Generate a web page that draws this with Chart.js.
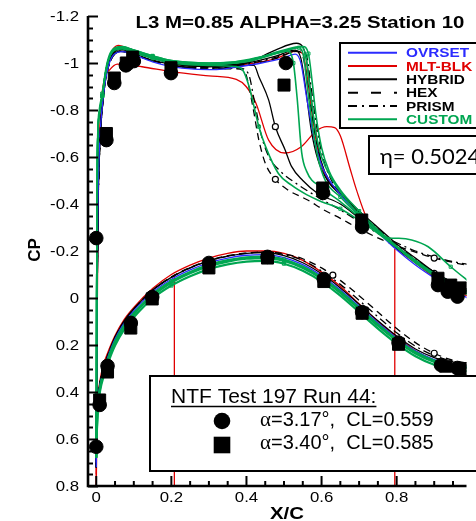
<!DOCTYPE html>
<html lang="fr">
<head>
<meta charset="utf-8">
<title>CP - Station 10</title>
<script src="https://cdn.jsdelivr.net/npm/chart.js@4.4.1/dist/chart.umd.min.js"></script>
<style>
	html, body { margin: 0; padding: 0; background: #ffffff; overflow: hidden; }
	#myChart { display: block; }
</style>
</head>
<body>
<canvas id="myChart" width="476" height="521"></canvas>
<script>
/* ====================================================================
 *
 * cp.js - distribution de CP, station 10
 *
 * ==================================================================== */

const titre = 'L3 M=0.85 ALPHA=3.25 Station 10';

const xTicks = [0, 0.2, 0.4, 0.6, 0.8];
const yTicks = [-1.2, -1, -0.8, -0.6, -0.4, -0.2, 0, 0.2, 0.4, 0.6, 0.8];

const legendeNoms = ['OVRSET', 'MLT-BLK', 'HYBRID', 'HEX', 'PRISM', 'CUSTOM'];

// Essai NTF 197 run 44 (extrados puis intrados)
const ntfAlpha317 = [
	[0, -0.255], [0.027, -0.672], [0.048, -0.915], [0.079, -0.99], [0.1, -1.008], [0.199, -0.957],
	[0.505, -1.0], [0.604, -0.447], [0.708, -0.302], [0.91, -0.055], [0.936, -0.027], [0.962, -0.006],
	[0, 0.633], [0.009, 0.455], [0.03, 0.289], [0.092, 0.106], [0.149, -0.004], [0.3, -0.149],
	[0.456, -0.175], [0.606, -0.081], [0.708, 0.06], [0.805, 0.19], [0.918, 0.285], [0.961, 0.298]
];
const ntfAlpha340 = [
	[0.027, -0.70], [0.048, -0.936], [0.08, -1.0], [0.097, -1.025], [0.199, -0.98], [0.5, -0.906],
	[0.603, -0.468], [0.707, -0.332], [0.91, -0.084], [0.944, -0.055], [0.97, -0.043],
	[0.009, 0.434], [0.03, 0.315], [0.092, 0.128], [0.149, 0.004], [0.3, -0.128], [0.456, -0.17],
	[0.606, -0.07], [0.708, 0.065], [0.805, 0.197], [0.93, 0.29], [0.972, 0.3]
];

// OVRSET
const ovrsetExtrados = [
	[0, 0.72], [0.002, 0.1], [0.004, -0.35], [0.008, -0.62], [0.015, -0.8], [0.025, -0.93], [0.035, -1.0],
	[0.05, -1.04], [0.07, -1.048], [0.1, -1.035], [0.15, -1.005], [0.2, -0.985], [0.26, -0.974], [0.32, -0.972],
	[0.38, -0.984], [0.44, -1.0], [0.5, -1.022], [0.53, -1.038], [0.545, -1.0], [0.56, -0.855], [0.581, -0.672],
	[0.602, -0.557], [0.65, -0.44], [0.7, -0.355], [0.75, -0.28], [0.8, -0.205], [0.85, -0.14], [0.9, -0.085],
	[0.95, -0.035], [1.0, 0.01]
];
const ovrsetIntrados = [
	[0, 0.7], [0.002, 0.52], [0.005, 0.43], [0.01, 0.37], [0.02, 0.305], [0.03, 0.255], [0.05, 0.175],
	[0.075, 0.105], [0.1, 0.055], [0.15, -0.025], [0.2, -0.08], [0.25, -0.12], [0.3, -0.15], [0.35, -0.17],
	[0.4, -0.182], [0.45, -0.185], [0.5, -0.172], [0.55, -0.142], [0.6, -0.095], [0.65, -0.035], [0.7, 0.035],
	[0.75, 0.105], [0.8, 0.17], [0.85, 0.225], [0.9, 0.262], [0.95, 0.285], [1.0, 0.295]
];

// MLT-BLK
const mltBlkExtrados = [
	[0, 0.8], [0.002, 0.0], [0.005, -0.45], [0.01, -0.7], [0.02, -0.9], [0.03, -1.0], [0.045, -1.06],
	[0.06, -1.075], [0.08, -1.065], [0.12, -1.04], [0.2, -1.0], [0.3, -0.985], [0.4, -0.995], [0.48, -1.02],
	[0.53, -1.05], [0.55, -1.04], [0.56, -0.96], [0.575, -0.78], [0.59, -0.63], [0.61, -0.52], [0.65, -0.445],
	[0.7, -0.36], [0.75, -0.285], [0.8, -0.21], [0.85, -0.15], [0.9, -0.09], [0.95, -0.04], [1.0, 0.0]
];
const mltBlkExtrados2 = [
	[0, 0.75], [0.002, 0.2], [0.005, -0.4], [0.009, -0.7], [0.02, -0.92], [0.035, -0.97], [0.056, -0.995],
	[0.09, -0.99], [0.122, -0.984], [0.2, -0.963], [0.3, -0.945], [0.373, -0.93], [0.399, -0.9], [0.425, -0.83],
	[0.459, -0.672], [0.502, -0.617], [0.546, -0.644], [0.585, -0.71], [0.614, -0.729], [0.635, -0.725],
	[0.65, -0.69], [0.676, -0.55], [0.693, -0.46], [0.719, -0.346], [0.75, -0.29], [0.8, -0.215],
	[0.85, -0.15], [0.9, -0.09], [0.95, -0.04], [1.0, 0.0]
];
const mltBlkIntrados = [
	[0, 0.8], [0.002, 0.55], [0.005, 0.42], [0.01, 0.35], [0.02, 0.28], [0.03, 0.235], [0.05, 0.16],
	[0.075, 0.09], [0.1, 0.04], [0.15, -0.04], [0.2, -0.1], [0.25, -0.14], [0.3, -0.17], [0.35, -0.19],
	[0.4, -0.2], [0.45, -0.2], [0.5, -0.19], [0.55, -0.16], [0.6, -0.11], [0.65, -0.05], [0.7, 0.025],
	[0.75, 0.1], [0.8, 0.165], [0.85, 0.225], [0.9, 0.265], [0.95, 0.29], [1.0, 0.3]
];
const mltBlkSaut1 = [[0.208, -0.1], [0.208, 0.8]];
const mltBlkSaut2 = [[0.795, -0.21], [0.795, 0.8]];

// HYBRID
const hybridExtrados = [
	[0, 0.72], [0.002, 0.05], [0.005, -0.42], [0.01, -0.68], [0.02, -0.88], [0.03, -0.98], [0.045, -1.045],
	[0.065, -1.065], [0.09, -1.06], [0.13, -1.035], [0.2, -1.0], [0.3, -0.985], [0.4, -1.0], [0.477, -1.055],
	[0.533, -1.084], [0.55, -1.069], [0.559, -1.02], [0.568, -0.914], [0.576, -0.8], [0.585, -0.701],
	[0.598, -0.587], [0.62, -0.5], [0.65, -0.45], [0.7, -0.37], [0.75, -0.3], [0.8, -0.23], [0.85, -0.17],
	[0.9, -0.11], [0.95, -0.06], [1.0, -0.02]
];
const hybridExtrados2 = [
	[0, 0.72], [0.002, 0.05], [0.005, -0.42], [0.01, -0.68], [0.02, -0.88], [0.03, -0.98], [0.045, -1.04],
	[0.065, -1.058], [0.1, -1.04], [0.15, -1.012], [0.2, -0.995], [0.3, -0.985], [0.38, -0.99], [0.42, -0.99],
	[0.433, -0.942], [0.459, -0.843], [0.477, -0.729], [0.503, -0.63], [0.52, -0.56], [0.55, -0.5],
	[0.589, -0.446], [0.65, -0.4], [0.7, -0.34], [0.75, -0.28], [0.8, -0.215], [0.85, -0.16], [0.9, -0.11],
	[0.95, -0.065], [1.0, -0.03]
];
const hybridExtrados3 = [
	[0, 0.72], [0.002, 0.05], [0.005, -0.42], [0.01, -0.68], [0.02, -0.88], [0.03, -0.98], [0.045, -1.04],
	[0.065, -1.06], [0.1, -1.045], [0.15, -1.02], [0.2, -1.0], [0.3, -0.99], [0.4, -1.0], [0.48, -1.03],
	[0.53, -1.055], [0.545, -1.02], [0.557, -0.9], [0.572, -0.72], [0.59, -0.59], [0.62, -0.49], [0.65, -0.44],
	[0.7, -0.36], [0.75, -0.285], [0.8, -0.21], [0.85, -0.155], [0.9, -0.1], [0.95, -0.055], [1.0, -0.015]
];
const hybridIntrados = [
	[0, 0.72], [0.002, 0.51], [0.005, 0.42], [0.01, 0.36], [0.02, 0.297], [0.03, 0.247], [0.05, 0.167],
	[0.075, 0.097], [0.1, 0.047], [0.15, -0.033], [0.2, -0.088], [0.25, -0.128], [0.3, -0.158], [0.35, -0.178],
	[0.4, -0.19], [0.45, -0.193], [0.5, -0.18], [0.55, -0.15], [0.6, -0.103], [0.65, -0.043], [0.7, 0.027],
	[0.75, 0.097], [0.8, 0.162], [0.85, 0.217], [0.9, 0.254], [0.95, 0.277], [1.0, 0.288]
];

// HEX
const hexExtrados = [
	[0, 0.72], [0.002, 0.05], [0.005, -0.4], [0.01, -0.66], [0.02, -0.87], [0.03, -0.97], [0.045, -1.03],
	[0.065, -1.05], [0.1, -1.035], [0.15, -1.01], [0.2, -0.99], [0.3, -0.975], [0.37, -0.975], [0.39, -0.97],
	[0.399, -0.95], [0.417, -0.814], [0.433, -0.672], [0.451, -0.57], [0.477, -0.505], [0.51, -0.46],
	[0.563, -0.417], [0.606, -0.375], [0.65, -0.339], [0.7, -0.295], [0.762, -0.247], [0.8, -0.222],
	[0.85, -0.195], [0.9, -0.17], [0.96, -0.148], [1.0, -0.135]
];
const hexExtrados2 = [
	[0, 0.72], [0.002, 0.05], [0.005, -0.4], [0.01, -0.66], [0.02, -0.87], [0.03, -0.97], [0.045, -1.03],
	[0.065, -1.05], [0.1, -1.035], [0.15, -1.01], [0.2, -0.99], [0.3, -0.98], [0.4, -0.99], [0.48, -1.02],
	[0.535, -1.05], [0.55, -1.03], [0.562, -0.92], [0.578, -0.74], [0.595, -0.6], [0.62, -0.5], [0.65, -0.445],
	[0.7, -0.365], [0.75, -0.29], [0.8, -0.22], [0.85, -0.16], [0.9, -0.105], [0.95, -0.06], [1.0, -0.02]
];
const hexIntrados = [
	[0, 0.72], [0.002, 0.51], [0.005, 0.42], [0.01, 0.36], [0.02, 0.297], [0.03, 0.247], [0.05, 0.167],
	[0.075, 0.097], [0.1, 0.047], [0.15, -0.033], [0.2, -0.09], [0.25, -0.13], [0.3, -0.16], [0.35, -0.18],
	[0.4, -0.192], [0.45, -0.195], [0.5, -0.188], [0.55, -0.167], [0.6, -0.128], [0.63, -0.097],
	[0.65, -0.075], [0.7, -0.01], [0.75, 0.06], [0.8, 0.13], [0.85, 0.19], [0.9, 0.235], [0.95, 0.265], [1.0, 0.28]
];
const hexSymboles = [0.477, 0.9, 0.63];

// PRISM
const prismExtrados = [
	[0, 0.72], [0.002, 0.05], [0.005, -0.4], [0.01, -0.66], [0.02, -0.87], [0.03, -0.97], [0.045, -1.03],
	[0.065, -1.05], [0.1, -1.035], [0.15, -1.01], [0.2, -0.99], [0.3, -0.975], [0.38, -0.978], [0.405, -0.955],
	[0.422, -0.83], [0.44, -0.69], [0.46, -0.6], [0.49, -0.54], [0.53, -0.49], [0.6, -0.42], [0.65, -0.375],
	[0.7, -0.325], [0.75, -0.275], [0.8, -0.235], [0.85, -0.2], [0.9, -0.175], [0.95, -0.155], [1.0, -0.14]
];
const prismExtrados2 = [
	[0, 0.72], [0.002, 0.05], [0.005, -0.4], [0.01, -0.66], [0.02, -0.87], [0.03, -0.97], [0.045, -1.03],
	[0.065, -1.05], [0.1, -1.035], [0.15, -1.01], [0.2, -0.99], [0.3, -0.98], [0.4, -0.995], [0.48, -1.025],
	[0.545, -1.055], [0.56, -1.03], [0.572, -0.9], [0.588, -0.72], [0.605, -0.59], [0.63, -0.49], [0.66, -0.43],
	[0.7, -0.37], [0.75, -0.295], [0.8, -0.225], [0.85, -0.165], [0.9, -0.11], [0.95, -0.065], [1.0, -0.025]
];
const prismIntrados = [
	[0, 0.72], [0.002, 0.51], [0.005, 0.42], [0.01, 0.36], [0.02, 0.297], [0.03, 0.247], [0.05, 0.167],
	[0.075, 0.097], [0.1, 0.047], [0.15, -0.033], [0.2, -0.088], [0.25, -0.128], [0.3, -0.158], [0.35, -0.178],
	[0.4, -0.19], [0.45, -0.195], [0.5, -0.185], [0.55, -0.16], [0.6, -0.115], [0.65, -0.058], [0.7, 0.01],
	[0.75, 0.08], [0.8, 0.148], [0.85, 0.205], [0.9, 0.245], [0.95, 0.27], [1.0, 0.283]
];

// CUSTOM
const customExtrados = [
	[0, 0.68], [0.001, 0.0], [0.003, -0.6], [0.008, -0.78], [0.016, -0.86], [0.025, -0.96], [0.034, -1.02],
	[0.05, -1.06], [0.07, -1.065], [0.1, -1.05], [0.15, -1.025], [0.2, -1.008], [0.3, -0.995], [0.37, -1.0],
	[0.45, -1.03], [0.5, -1.05], [0.54, -1.065], [0.552, -1.03], [0.562, -0.9], [0.575, -0.74], [0.59, -0.6],
	[0.61, -0.5], [0.65, -0.43], [0.7, -0.35], [0.75, -0.28], [0.8, -0.215], [0.85, -0.15], [0.9, -0.095],
	[0.95, -0.045], [1.0, -0.005]
];
const customExtrados2 = [
	[0, 0.68], [0.001, 0.0], [0.003, -0.62], [0.008, -0.8], [0.016, -0.87], [0.025, -0.97], [0.034, -1.03],
	[0.05, -1.065], [0.07, -1.07], [0.1, -1.055], [0.15, -1.03], [0.2, -1.01], [0.3, -1.0], [0.37, -1.005],
	[0.45, -1.03], [0.51, -1.05], [0.525, -1.0], [0.535, -0.85], [0.547, -0.62], [0.56, -0.54], [0.6, -0.47],
	[0.65, -0.41], [0.7, -0.345], [0.75, -0.285], [0.8, -0.22], [0.85, -0.16], [0.9, -0.1], [0.95, -0.05], [1.0, -0.01]
];
const customExtrados3 = [
	[0, 0.68], [0.001, 0.0], [0.003, -0.6], [0.008, -0.78], [0.016, -0.86], [0.025, -0.96], [0.034, -1.02],
	[0.05, -1.058], [0.07, -1.065], [0.1, -1.05], [0.15, -1.025], [0.2, -1.005], [0.3, -0.995], [0.4, -1.005],
	[0.5, -1.05], [0.55, -1.07], [0.565, -1.04], [0.575, -0.92], [0.585, -0.78], [0.6, -0.64], [0.62, -0.54],
	[0.65, -0.46], [0.7, -0.37], [0.75, -0.29], [0.8, -0.22], [0.85, -0.155], [0.9, -0.1], [0.95, -0.05], [1.0, -0.01]
];
const customExtrados4 = [
	[0, 0.68], [0.001, 0.0], [0.003, -0.6], [0.008, -0.78], [0.016, -0.86], [0.025, -0.96], [0.034, -1.02],
	[0.05, -1.055], [0.07, -1.06], [0.1, -1.045], [0.15, -1.02], [0.2, -1.0], [0.3, -0.99], [0.37, -0.985],
	[0.39, -0.97], [0.407, -0.9], [0.433, -0.729], [0.451, -0.644], [0.485, -0.53], [0.52, -0.48], [0.56, -0.44],
	[0.6, -0.41], [0.65, -0.38], [0.7, -0.33], [0.75, -0.275], [0.8, -0.215], [0.85, -0.16], [0.9, -0.105],
	[0.95, -0.06], [1.0, -0.02]
];
const customExtrados5 = [
	[0, 0.68], [0.001, 0.0], [0.003, -0.6], [0.008, -0.78], [0.016, -0.86], [0.025, -0.96], [0.034, -1.02],
	[0.05, -1.06], [0.07, -1.068], [0.1, -1.055], [0.15, -1.03], [0.2, -1.01], [0.3, -1.0], [0.4, -1.01],
	[0.5, -1.055], [0.545, -1.07], [0.558, -1.03], [0.57, -0.88], [0.585, -0.7], [0.6, -0.6], [0.63, -0.5],
	[0.66, -0.43], [0.7, -0.355], [0.75, -0.285], [0.78, -0.255], [0.806, -0.254], [0.84, -0.247],
	[0.884, -0.218], [0.944, -0.133], [1.0, -0.06]
];
const customIntrados = [
	[0, 0.68], [0.002, 0.54], [0.005, 0.45], [0.01, 0.385], [0.02, 0.32], [0.03, 0.27], [0.05, 0.19],
	[0.075, 0.12], [0.1, 0.07], [0.15, -0.01], [0.2, -0.065], [0.25, -0.105], [0.3, -0.135], [0.35, -0.155],
	[0.4, -0.167], [0.45, -0.17], [0.5, -0.158], [0.55, -0.128], [0.6, -0.082], [0.65, -0.022], [0.7, 0.048],
	[0.75, 0.118], [0.8, 0.182], [0.85, 0.236], [0.9, 0.272], [0.95, 0.292], [1.0, 0.3]
];
const customIntrados2 = [
	[0, 0.68], [0.002, 0.55], [0.005, 0.462], [0.01, 0.397], [0.02, 0.332], [0.03, 0.282], [0.05, 0.202],
	[0.075, 0.132], [0.1, 0.082], [0.15, 0.002], [0.2, -0.053], [0.25, -0.093], [0.3, -0.123], [0.35, -0.143],
	[0.4, -0.155], [0.45, -0.158], [0.5, -0.146], [0.55, -0.116], [0.6, -0.07], [0.65, -0.01], [0.7, 0.06],
	[0.75, 0.13], [0.8, 0.194], [0.85, 0.248], [0.9, 0.284], [0.95, 0.304], [1.0, 0.312]
];
const customIntrados3 = [
	[0, 0.68], [0.002, 0.53], [0.005, 0.445], [0.01, 0.38], [0.02, 0.314], [0.03, 0.264], [0.05, 0.184],
	[0.075, 0.114], [0.1, 0.064], [0.15, -0.016], [0.2, -0.071], [0.25, -0.111], [0.3, -0.141], [0.35, -0.161],
	[0.4, -0.173], [0.45, -0.176], [0.5, -0.164], [0.55, -0.134], [0.6, -0.088], [0.65, -0.028], [0.7, 0.042],
	[0.75, 0.112], [0.8, 0.176], [0.85, 0.23], [0.9, 0.266], [0.95, 0.286], [1.0, 0.294]
];

const BLEU = '#2b2bff';
const ROUGE = '#e00000';
const NOIR = '#000000';
const VERT = '#00a651';

const POLICE = '"Liberation Sans", Arial, sans-serif';
const LARGEUR = 1.2;	// les polices Tecplot sont plus larges

function points(tab)
{
	return tab.map(function(p) { return {x: p[0], y: p[1]}; });
}

function courbe(tab, couleur, extra)
{
	return Object.assign({
		data: points(tab),
		borderColor: couleur,
		backgroundColor: couleur,
		borderWidth: 1.3,
		pointRadius: 0,
		showLine: true,
		fill: false,
		tension: 0.4,
		cubicInterpolationMode: 'monotone'
	}, extra || {});
}

function symboles(liste)
{
	return function(c) { return (c.raw && liste.indexOf(c.raw.x) >= 0) ? 3 : 0; };
}

function marquesVertes(c)
{
	return (c.dataIndex % 6 === 4) ? 2.2 : 0;
}

var styleHex = {borderDash: [7, 5], pointStyle: 'circle', pointBackgroundColor: '#ffffff', pointBorderColor: NOIR, pointBorderWidth: 1.2, pointRadius: symboles(hexSymboles)};
var stylePrism = {borderDash: [8, 4, 2, 4]};
var styleVert = {borderWidth: 1.6, pointStyle: 'rect', pointBackgroundColor: 'rgba(0,0,0,0)', pointBorderColor: VERT, pointBorderWidth: 1, pointRadius: marquesVertes};

var datasets = [
	{ data: points(ntfAlpha317), pointStyle: 'circle', pointRadius: 6.8, backgroundColor: NOIR, borderColor: NOIR, showLine: false },
	{ data: points(ntfAlpha340), pointStyle: 'rect', pointRadius: 8.5, backgroundColor: NOIR, borderColor: NOIR, showLine: false },

	courbe(customExtrados, VERT, styleVert),
	courbe(customExtrados2, VERT, styleVert),
	courbe(customExtrados3, VERT, styleVert),
	courbe(customExtrados4, VERT, styleVert),
	courbe(customExtrados5, VERT, styleVert),
	courbe(customIntrados, VERT, Object.assign({}, styleVert, {borderWidth: 2.2})),
	courbe(customIntrados2, VERT, Object.assign({}, styleVert, {borderWidth: 2.2})),
	courbe(customIntrados3, VERT, Object.assign({}, styleVert, {borderWidth: 2.2})),

	courbe(ovrsetExtrados, BLEU),
	courbe(ovrsetIntrados, BLEU),

	courbe(hybridExtrados, NOIR),
	courbe(hybridExtrados2, NOIR, {pointStyle: 'circle', pointBackgroundColor: '#ffffff', pointBorderColor: NOIR, pointBorderWidth: 1.2, pointRadius: symboles([0.477])}),
	courbe(hybridExtrados3, NOIR),
	courbe(hybridIntrados, NOIR),

	courbe(hexExtrados, NOIR, styleHex),
	courbe(hexExtrados2, NOIR, styleHex),
	courbe(hexIntrados, NOIR, styleHex),

	courbe(prismExtrados, NOIR, stylePrism),
	courbe(prismExtrados2, NOIR, stylePrism),
	courbe(prismIntrados, NOIR, stylePrism),

	courbe(mltBlkExtrados, ROUGE),
	courbe(mltBlkExtrados2, ROUGE),
	courbe(mltBlkIntrados, ROUGE),
	courbe(mltBlkSaut1, ROUGE, {tension: 0, cubicInterpolationMode: 'default'}),
	courbe(mltBlkSaut2, ROUGE, {tension: 0, cubicInterpolationMode: 'default'})
];

function texteLarge(ctx, txt, x, y, police, align, couleur)
{
	ctx.save();
	ctx.font = police;
	ctx.fillStyle = couleur || NOIR;
	ctx.textAlign = align || 'left';
	ctx.textBaseline = 'alphabetic';
	ctx.translate(x, y);
	ctx.scale(LARGEUR, 1);
	ctx.fillText(txt, 0, 0);
	ctx.restore();
}

// axes, graduations, titres et cartouches
const habillage = {
	id: 'habillage',
	afterDraw: function(chart)
	{
		var ctx = chart.ctx;
		var a = chart.chartArea;
		var sx = chart.scales.x;
		var sy = chart.scales.y;
		var i, v, p;

		ctx.save();
		ctx.strokeStyle = NOIR;

		// graduations (tous les 0.05)
		ctx.lineWidth = 2;
		for (i = 0; i <= 40; i++) {
			v = -1.2 + i * 0.05;
			p = Math.round(sy.getPixelForValue(v)) + 0.5;
			ctx.beginPath();
			ctx.moveTo(a.left, p);
			ctx.lineTo(a.left + (i % 4 === 0 ? 10 : 5), p);
			ctx.stroke();
		}
		for (i = 0; i <= 19; i++) {
			v = i * 0.05;
			p = sx.getPixelForValue(v);
			if (p > a.right) break;
			ctx.beginPath();
			ctx.moveTo(p, a.bottom);
			ctx.lineTo(p, a.bottom - (i % 4 === 0 ? 10 : 5));
			ctx.stroke();
		}

		// axes
		ctx.lineWidth = 2.6;
		ctx.beginPath();
		ctx.moveTo(a.left, a.top);
		ctx.lineTo(a.left, a.bottom);
		ctx.lineTo(a.right, a.bottom);
		ctx.stroke();

		yTicks.forEach(function(t) {
			texteLarge(ctx, String(t), a.left - 9, sy.getPixelForValue(t) + 5, '14px ' + POLICE, 'right');
		});
		xTicks.forEach(function(t) {
			texteLarge(ctx, String(t), sx.getPixelForValue(t), a.bottom + 16, '14px ' + POLICE, 'center');
		});

		texteLarge(ctx, titre, 300, 28, 'bold 17px ' + POLICE, 'center');
		texteLarge(ctx, 'X/C', 287, 519, 'bold 17px ' + POLICE, 'center');

		ctx.save();
		ctx.translate(40, 250);
		ctx.rotate(-Math.PI / 2);
		ctx.font = 'bold 17px ' + POLICE;
		ctx.fillStyle = NOIR;
		ctx.textAlign = 'center';
		ctx.fillText('CP', 0, 0);
		ctx.restore();

		// legende des calculs
		var couleurs = [BLEU, ROUGE, NOIR, NOIR, NOIR, VERT];
		var tirets = [[], [], [], [10, 13], [9, 5, 2, 5], []];
		ctx.fillStyle = '#ffffff';
		ctx.fillRect(340, 43, 150, 85);
		ctx.lineWidth = 2;
		ctx.strokeRect(340, 43, 150, 85);
		legendeNoms.forEach(function(nom, k) {
			var yl = 52.7 + k * 13.33;
			ctx.save();
			ctx.strokeStyle = couleurs[k];
			ctx.lineWidth = 2;
			ctx.setLineDash(tirets[k]);
			ctx.beginPath();
			ctx.moveTo(348, yl);
			ctx.lineTo(397, yl);
			ctx.stroke();
			ctx.restore();
			texteLarge(ctx, nom, 406, yl + 4.6, 'bold 12.8px ' + POLICE, 'left', couleurs[k]);
		});

		// station
		ctx.fillStyle = '#ffffff';
		ctx.fillRect(369, 136, 130, 38);
		ctx.lineWidth = 2;
		ctx.strokeRect(369, 136, 130, 38);
		ctx.fillStyle = NOIR;
		ctx.font = '22px Lato, "Open Sans", sans-serif';
		ctx.textAlign = 'left';
		ctx.textBaseline = 'alphabetic';
		ctx.fillText('\u03b7= 0.5024', 380, 164);

		// essai NTF
		ctx.fillStyle = '#ffffff';
		ctx.fillRect(150, 376, 340, 95);
		ctx.strokeRect(150, 376, 340, 95);
		ctx.fillStyle = NOIR;
		ctx.font = '21px ' + POLICE;
		var entete = 'NTF Test 197 Run 44:';
		ctx.fillText(entete, 171, 403);
		ctx.lineWidth = 1.5;
		ctx.beginPath();
		ctx.moveTo(171, 406.5);
		ctx.lineTo(171 + ctx.measureText(entete).width, 406.5);
		ctx.stroke();

		ctx.beginPath();
		ctx.arc(222, 421, 8.3, 0, 2 * Math.PI);
		ctx.fill();
		ctx.fillRect(213.7, 436.7, 16.6, 16.6);

		[['3.17', '0.559', 426], ['3.40', '0.585', 449]].forEach(function(l) {
			ctx.font = '21px "Liberation Serif", serif';
			ctx.fillText('\u03b1', 260, l[2]);
			var w = ctx.measureText('\u03b1').width;
			ctx.font = '20px ' + POLICE;
			ctx.fillText('=' + l[0] + '\u00b0,  CL=' + l[1], 260 + w, l[2]);
		});

		ctx.restore();
	}
};

var ctx = document.getElementById('myChart').getContext('2d');

var cpChart = new Chart(ctx, {
	type: 'scatter',
	data: { datasets: datasets },
	options: {
		responsive: false,
		animation: false,
		devicePixelRatio: 1,
		events: [],
		layout: { padding: { top: 16, right: 0, left: 0, bottom: 0 } },
		scales: {
			x: {
				type: 'linear',
				min: -0.022,
				max: 0.986,
				grid: { display: false },
				border: { display: false },
				ticks: { display: false },
				afterFit: function(s) { s.height = 35; }
			},
			y: {
				type: 'linear',
				reverse: true,
				min: -1.2,
				max: 0.8,
				grid: { display: false },
				border: { display: false },
				ticks: { display: false },
				afterFit: function(s) { s.width = 88; }
			}
		},
		plugins: {
			legend: { display: false },
			tooltip: { enabled: false }
		}
	},
	plugins: [habillage]
});
</script>
</body>
</html>
